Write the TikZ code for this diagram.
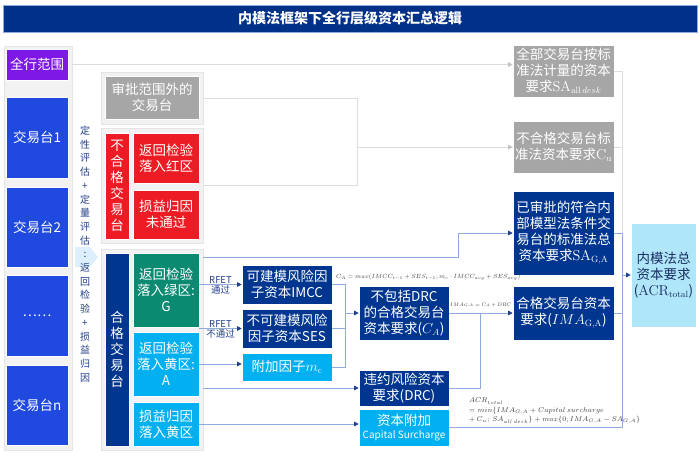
\documentclass[tikz,border=0pt]{standalone}
\usepackage{graphicx}
\usepackage[no-math]{fontspec}
\setmainfont{Noto Sans CJK SC}
\usetikzlibrary{arrows.meta}

\definecolor{titleblue}{HTML}{003087}
\definecolor{navy}{HTML}{00368F}
\definecolor{allpurple}{HTML}{7D18E6}
\definecolor{deskblue}{HTML}{2049E0}
\definecolor{boxgray}{HTML}{A6A6A6}
\definecolor{failred}{HTML}{ED1C24}
\definecolor{passteal}{HTML}{0B8A72}
\definecolor{warncyan}{HTML}{00B0F0}
\definecolor{acrblue}{HTML}{B0E6FA}
\definecolor{panelfill}{HTML}{F2F2F2}
\definecolor{paneldraw}{HTML}{E4E4E4}
\definecolor{lineblue}{HTML}{8FAADC}
\definecolor{tipnavy}{HTML}{1F3F8F}
\definecolor{linegray}{HTML}{DDDDDD}
\definecolor{tipgray}{HTML}{C4C4C4}
\definecolor{textnavy}{HTML}{24408A}
\definecolor{formulagray}{HTML}{404040}
\definecolor{paleblue}{HTML}{DDEFFC}

\newcommand{\boxfont}{\fontsize{13.5}{16}\selectfont}

\tikzset{
  wh/.style 2 args={minimum width=#1pt, minimum height=#2pt},
  box/.style={inner sep=0pt, align=center, text=white, draw=white, line width=0.6pt, font=\boxfont},
  navybox/.style={box, fill=navy},
  purplebox/.style={box, fill=allpurple},
  deskbox/.style={box, fill=deskblue},
  graybox/.style={box, fill=boxgray},
  redbox/.style={box, fill=failred},
  tealbox/.style={box, fill=passteal},
  cyanbox/.style={box, fill=warncyan},
  acrbox/.style={box, fill=acrblue, text=textnavy!70!black},
  panel/.style={inner sep=0pt, fill=panelfill, draw=paneldraw, line width=0.6pt},
  titlebar/.style={inner sep=0pt, fill=titleblue, draw=lineblue, line width=0.5pt, text=white, font=\fontsize{14}{16}\selectfont\bfseries},
  vtext/.style={inner sep=0pt, align=center, text=textnavy, font=\fontsize{10}{13.7}\selectfont},
  rfet/.style={inner sep=1pt, text=textnavy, font=\fontsize{9.5}{11}\selectfont},
  formula/.style={inner sep=0pt, text=formulagray, font=\fontsize{7}{9.5}\selectfont},
  blueline/.style={draw=lineblue, line width=0.8pt},
  bluearrow/.style={blueline, -{Triangle[length=4.5pt, width=4.5pt, color=tipnavy]}},
  grayline/.style={draw=linegray, line width=0.8pt},
  grayarrow/.style={grayline, -{Triangle[length=4.5pt, width=4.5pt, color=tipgray]}}
}

\begin{document}
\begin{tikzpicture}[x=1pt, y=-1pt]
  \fill[white] (0,0) rectangle (700,458);
  \useasboundingbox (0,0) rectangle (700,458);

  % title
  \node[titlebar, wh={694}{27}] (title) at (350,18.5) {内模法框架下全行层级资本汇总逻辑};

  % panels
  \node[panel, wh={68}{404}] (lpanel) at (38,248) {};
  \node[panel, wh={102}{52}] (pa) at (152,98) {};
  \node[panel, wh={102}{115}] (pb) at (152,185.5) {};
  \node[panel, wh={102}{201}] (pc) at (152,349.5) {};

  % desks
  \node[purplebox, wh={62}{31}] (all) at (37,64.5) {全行范围};
  \node[deskbox, wh={62}{81}] (desk1) at (37,137.5) {交易台1};
  \node[deskbox, wh={62}{80}] (desk2) at (37,227) {交易台2};
  \node[deskbox, wh={62}{81}] (deskdots) at (37,315.5) {……};
  \node[deskbox, wh={62}{80}] (deskn) at (37,405) {交易台n};

  % assessment
  \fill[paleblue] (75,247) -- (90,247) -- (98,257) -- (90,267) -- (75,267) -- cycle;
  \node[vtext] (assess) at (85,254) {定\\性\\评\\估\\+\\定\\量\\评\\估\\:\\返\\回\\检\\验\\+\\损\\益\\归\\因};

  % out of scope / unqualified
  \node[graybox, wh={94}{43}] (oos) at (152,97.5) {审批范围外的\\交易台};
  \node[redbox, wh={24}{106}] (unq) at (117,186) {不\\合\\格\\交\\易\\台};
  \node[redbox, wh={66}{50}] (red1) at (166,158) {返回检验\\落入红区};
  \node[redbox, wh={66}{49}] (red2) at (166,214.5) {损益归因\\未通过};

  % qualified
  \node[navybox, wh={24}{193}] (qual) at (117,349.5) {合\\格\\交\\易\\台};
  \node[tealbox, wh={66}{74}] (green) at (166,290) {返回检验\\落入绿区:\\G};
  \node[cyanbox, wh={66}{64}] (yellow) at (166,364) {返回检验\\落入黄区:\\A};
  \node[cyanbox, wh={66}{44}] (pnl) at (166,424) {损益归因\\落入黄区};

  % charges
  \node[navybox, wh={90}{39}] (imcc) at (287,284.5) {可建模风险因\\子资本IMCC};
  \node[navybox, wh={90}{39}] (ses) at (287,328.5) {不可建模风险\\因子资本SES};
  \node[cyanbox, wh={90}{28}] (mc) at (287,367) {附加因子$m_{\mathrm{c}}$};
  \node[navybox, wh={90}{54}] (ca) at (404,313) {不包括DRC\\的合格交易台\\资本要求($C_A$)};
  \node[navybox, wh={90}{36}] (drc) at (404,388) {违约风险资本\\要求(DRC)};
  \node[cyanbox, wh={90}{37}] (cs) at (404,427.5) {资本附加\\[-3pt]{\fontsize{10}{12}\selectfont Capital Surcharge}};

  % totals
  \node[graybox, wh={101}{52}] (saall) at (563.5,71) {全部交易台按标\\准法计量的资本\\要求$\mathrm{SA}_{\mathrm{all}\,desk}$};
  \node[graybox, wh={101}{52}] (cu) at (563.5,147) {不合格交易台标\\准法资本要求$\mathrm{C_u}$};
  \node[navybox, wh={101}{84}] (saga) at (563.5,233) {已审批的符合内\\部模型法条件交\\易台的标准法总\\资本要求$\mathrm{SA_{G,A}}$};
  \node[navybox, wh={101}{54}] (ima) at (563.5,313) {合格交易台资本\\要求($IMA_{\mathrm{G,A}}$)};
  \node[acrbox, wh={65}{104}] (acr) at (663.5,275) {内模法总\\资本要求\\($\mathrm{ACR_{total}}$)};

  % formulas
  \node[formula, anchor=west] (caeq) at (336,277) {\resizebox{184pt}{!}{$C_A = max(IMCC_{t-1} + SES_{t-1}; m_c \cdot IMCC_{avg} + SES_{avg})$}};
  \node[formula, anchor=west] (imaeq) at (450,305) {\resizebox{61pt}{!}{$IMA_{G,A} = C_A + DRC$}};
  \node[formula, anchor=north west, align=left] (acreq) at (469,398) {$ACR_{total}$\\$= min\{IMA_{G,A} + Capital\ surcharge$\\$+\,C_u;\ SA_{all\,desk}\} + max\{0; IMA_{G,A} - SA_{G,A}\}$};

  % coordinates
  \coordinate (jgray) at (357,147);
  \coordinate (jr) at (622,275);
  \coordinate (qtop) at (203,257);
  \coordinate (bend) at (458,257);
  \coordinate (jc) at (345,313);
  \coordinate (jd) at (480,313);

  % gray links
  \draw[grayarrow] (all -| lpanel.east) -- (all -| saall.west);
  \draw[grayarrow] (pa.east) -| (jgray) -- (cu.west);
  \draw[grayline] (pb.east) -| (jgray);
  \draw[grayline] (saall.east) -| (jr);
  \draw[grayline] (cu.east) -- (cu.east -| jr);

  % blue links
  \draw[bluearrow] (qtop) -- (bend) |- (saga.west);
  \draw[bluearrow] (green.east |- imcc.west) -- node[rfet, above] {RFET} node[rfet, below] {通过} (imcc.west);
  \draw[bluearrow] (green.east |- ses.west) -- node[rfet, above] {RFET} node[rfet, below] {不通过} (ses.west);
  \draw[bluearrow] (yellow.east) -- (yellow.east -| mc.west);
  \draw[blueline] (imcc.east) -| (jc);
  \draw[blueline] (ses.east) -| (jc);
  \draw[blueline] (mc.east) -| (jc);
  \draw[bluearrow] (jc) -- (ca.west);
  \draw[bluearrow] (pc.east |- drc.west) -- (drc.west);
  \draw[bluearrow] (pnl.east) -- (pnl.east -| cs.west);
  \draw[bluearrow] (ca.east) -- (ima.west);
  \draw[blueline] (drc.east) -| (jd);
  \draw[blueline] (saga.east) -| (jr);
  \draw[blueline] (ima.east) -| (jr);
  \draw[blueline] (cs.east) -| (jr);
  \draw[bluearrow] (jr) -- (acr.west);
\end{tikzpicture}
\end{document}
